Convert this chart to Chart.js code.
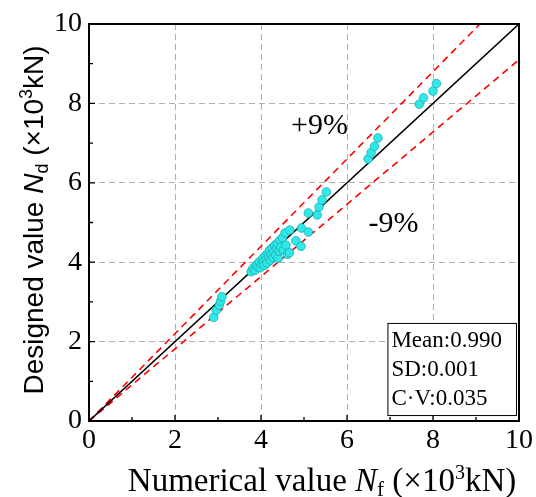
<!DOCTYPE html>
<html>
<head>
<meta charset="utf-8">
<script src="https://cdn.jsdelivr.net/npm/chart.js@4"></script>
<style>
  html, body { margin: 0; padding: 0; background: #fff; }
  #wrap { width: 536px; height: 497px; }
</style>
</head>
<body>
<div id="wrap"><canvas id="chart" width="536" height="497"></canvas></div>
<script>
// numerical value Nf vs designed value Nd (x10^3 kN)
const numerical = [
  2.90, 2.96, 3.03, 3.06, 3.09,
  3.77, 3.81, 3.86, 3.88, 3.92, 3.96, 3.98, 4.02, 4.04, 4.06, 4.08, 4.10, 4.12, 4.14,
  4.16, 4.18, 4.20, 4.22, 4.24, 4.26, 4.28, 4.30, 4.32, 4.34, 4.36, 4.38, 4.40, 4.42,
  4.44, 4.46, 4.50, 4.52, 4.56, 4.58, 4.62, 4.66, 4.67,
  4.81, 4.93, 4.94, 5.10, 5.10, 5.31, 5.35, 5.42, 5.52,
  6.49, 6.56, 6.64, 6.72, 7.68, 7.78, 8.00, 8.08
];
const designed = [
  2.61, 2.79, 2.92, 3.02, 3.13,
  3.76, 3.84, 3.80, 3.92, 3.88, 4.01, 3.86, 3.95, 4.09, 4.02, 3.92, 4.16, 4.05, 3.98,
  4.22, 4.12, 4.30, 4.05, 4.20, 4.36, 4.12, 4.26, 4.42, 4.18, 4.34, 4.48, 4.10, 4.28,
  4.55, 4.38, 4.62, 4.30, 4.74, 4.43, 4.20, 4.24, 4.81,
  4.54, 4.40, 4.86, 4.76, 5.24, 5.19, 5.39, 5.57, 5.77,
  6.60, 6.76, 6.92, 7.13, 7.98, 8.14, 8.31, 8.50
];
const axisMax = 10;
const majorTicks = [0, 2, 4, 6, 8, 10];
const bandUpper = 1.1;   // +9% line
const bandLower = 0.91;  // -9% line
const statsLines = ['Mean:0.990', 'SD:0.001', 'C\u00B7V:0.035'];

const points = numerical.map((x, i) => ({ x: x, y: designed[i] }));
const lineThrough = k => [{ x: 0, y: 0 }, { x: axisMax, y: axisMax * k }];

const SERIF = '"Liberation Serif", "Times New Roman", serif';
const SANS = '"Liberation Sans", Arial, sans-serif';

// draws a label made of several runs (normal / italic / sub / sup), centred at 0,0
function drawRuns(ctx, runs) {
  let total = 0;
  runs.forEach(r => { ctx.font = r.font; r.w = ctx.measureText(r.t).width; total += r.w; });
  let x = -total / 2;
  runs.forEach(r => {
    ctx.font = r.font;
    ctx.fillText(r.t, x, r.dy || 0);
    x += r.w;
  });
}

const decor = {
  id: 'decor',
  afterDraw(chart) {
    const ctx = chart.ctx;
    const a = chart.chartArea;
    const xs = chart.scales.x, ys = chart.scales.y;
    ctx.save();
    // frame
    ctx.strokeStyle = '#000';
    ctx.lineWidth = 2;
    ctx.strokeRect(a.left, a.top, a.right - a.left, a.bottom - a.top);
    // inward ticks, major + minor
    ctx.lineWidth = 1.3;
    for (let v = 1; v < axisMax; v++) {
      const len = v % 2 === 0 ? 6 : 4;
      const px = xs.getPixelForValue(v);
      const py = ys.getPixelForValue(v);
      ctx.beginPath();
      ctx.moveTo(px, a.bottom); ctx.lineTo(px, a.bottom - len);
      ctx.moveTo(a.left, py); ctx.lineTo(a.left + len, py);
      ctx.stroke();
    }
    // band labels
    ctx.fillStyle = '#000';
    ctx.textAlign = 'center';
    ctx.textBaseline = 'middle';
    ctx.font = '30px ' + SERIF;
    ctx.fillText('+9%', xs.getPixelForValue(5.36), ys.getPixelForValue(7.43));
    ctx.fillText('-9%', xs.getPixelForValue(7.08), ys.getPixelForValue(4.96));
    // stats box
    const bx = xs.getPixelForValue(6.94), by = ys.getPixelForValue(2.47);
    const bw = xs.getPixelForValue(9.93) - bx, bh = ys.getPixelForValue(0.15) - by;
    ctx.fillStyle = '#fff';
    ctx.fillRect(bx, by, bw, bh);
    ctx.lineWidth = 1;
    ctx.strokeRect(bx + 0.5, by + 0.5, bw, bh);
    ctx.fillStyle = '#000';
    ctx.textAlign = 'left';
    ctx.font = '23px ' + SERIF;
    statsLines.forEach((s, i) => ctx.fillText(s, bx + 4, by + 18 + i * 29));
    // x title
    ctx.textAlign = 'left';
    ctx.textBaseline = 'alphabetic';
    ctx.save();
    ctx.translate(322, 491);
    drawRuns(ctx, [
      { t: 'Numerical value ', font: '33px ' + SERIF },
      { t: 'N', font: 'italic 33px ' + SERIF },
      { t: 'f', font: '21px ' + SERIF, dy: 5 },
      { t: ' (\u00D710', font: '33px ' + SERIF },
      { t: '3', font: '20px ' + SERIF, dy: -12 },
      { t: 'kN)', font: '33px ' + SERIF }
    ]);
    ctx.restore();
    // y title
    ctx.save();
    ctx.translate(43, 220);
    ctx.rotate(-Math.PI / 2);
    drawRuns(ctx, [
      { t: 'Designed value ', font: '28px ' + SANS },
      { t: 'N', font: 'italic 28px ' + SANS },
      { t: 'd', font: '18px ' + SANS, dy: 5 },
      { t: ' (\u00D710', font: '28px ' + SANS },
      { t: '3', font: '18px ' + SANS, dy: -11 },
      { t: 'kN)', font: '28px ' + SANS }
    ]);
    ctx.restore();
    ctx.restore();
  }
};

const gridColor = c => (c.tick && c.tick.value > 0 && c.tick.value < axisMax) ? '#b0b0b0' : 'rgba(0,0,0,0)';

new Chart(document.getElementById('chart').getContext('2d'), {
  type: 'scatter',
  data: {
    datasets: [
      {
        data: points,
        backgroundColor: '#30E8E8',
        borderColor: '#1AAFB0',
        borderWidth: 0.8,
        pointRadius: 4.3,
        order: 1
      },
      {
        type: 'line',
        data: lineThrough(1),
        borderColor: '#000',
        borderWidth: 1.6,
        pointRadius: 0,
        order: 2
      },
      {
        type: 'line',
        data: lineThrough(bandUpper),
        borderColor: '#ff0000',
        borderWidth: 1.6,
        borderDash: [7, 5],
        pointRadius: 0,
        order: 3
      },
      {
        type: 'line',
        data: lineThrough(bandLower),
        borderColor: '#ff0000',
        borderWidth: 1.6,
        borderDash: [7, 5],
        pointRadius: 0,
        order: 3
      }
    ]
  },
  options: {
    responsive: false,
    animation: false,
    layout: { padding: { left: 0, right: 16, top: 24, bottom: 0 } },
    plugins: { legend: { display: false }, tooltip: { enabled: false } },
    scales: {
      x: {
        type: 'linear',
        min: 0,
        max: axisMax,
        afterFit: s => { s.height = 76; },
        afterBuildTicks: s => { s.ticks = majorTicks.map(v => ({ value: v })); },
        ticks: { color: '#000', font: { family: SERIF, size: 28 }, padding: 3, maxRotation: 0 },
        grid: { color: gridColor, borderDash: [6, 4], drawTicks: false, lineWidth: 1 },
        border: { display: false, dash: [6, 4] }
      },
      y: {
        type: 'linear',
        min: 0,
        max: axisMax,
        afterFit: s => { s.width = 89; },
        afterBuildTicks: s => { s.ticks = majorTicks.map(v => ({ value: v })); },
        ticks: { color: '#000', font: { family: SERIF, size: 28 }, padding: 7 },
        grid: { color: gridColor, drawTicks: false, lineWidth: 1 },
        border: { display: false, dash: [6, 4] }
      }
    }
  },
  plugins: [decor]
});
</script>
</body>
</html>
